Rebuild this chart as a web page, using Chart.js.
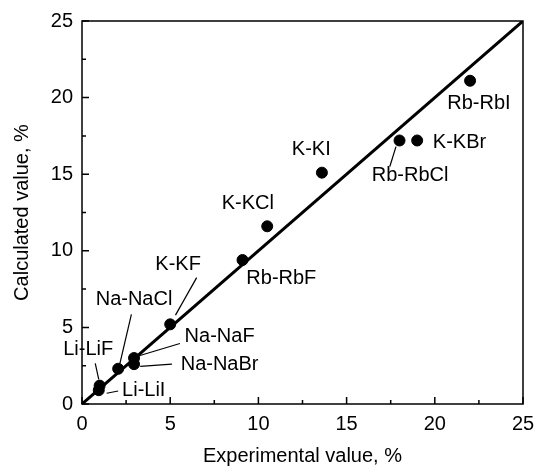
<!DOCTYPE html>
<html>
<head>
<meta charset="utf-8">
<script src="https://cdn.jsdelivr.net/npm/chart.js@4/dist/chart.umd.min.js"></script>
<style>
  html, body { margin: 0; padding: 0; background: #fff; }
  #wrap { width: 544px; height: 472px; position: relative; }
</style>
</head>
<body>
<div id="wrap"><canvas id="grafico"></canvas></div>
<script>
  // dados
  const nomes = ['Li-LiF', 'Li-LiI', 'Na-NaCl', 'Na-NaF', 'Na-NaBr', 'K-KF', 'Rb-RbF', 'K-KCl', 'K-KI', 'Rb-RbCl', 'K-KBr', 'Rb-RbI'];
  const experimental = [1.0, 0.95, 2.05, 2.95, 2.95, 5.0, 9.1, 10.5, 13.6, 18.0, 19.0, 22.0];
  const calculado = [1.2, 0.9, 2.3, 3.0, 2.6, 5.2, 9.4, 11.6, 15.1, 17.2, 17.2, 21.1];
  const linhaX = [0, 25];
  const linhaY = [0, 25];
  const ticksMaiores = [0, 5, 10, 15, 20, 25];

  // posicao dos rotulos (em unidades do grafico) e linhas de chamada
  const rotuloPos = {
    'Li-LiF': [0.35, 3.55], 'Li-LiI': [3.5, 0.9], 'Na-NaCl': [2.95, 6.8],
    'Na-NaF': [7.8, 4.4], 'Na-NaBr': [7.8, 2.6], 'K-KF': [5.45, 9.1],
    'Rb-RbF': [11.3, 8.2], 'K-KCl': [9.4, 13.1], 'K-KI': [13.0, 16.6],
    'Rb-RbCl': [18.6, 14.9], 'K-KBr': [21.4, 17.1], 'Rb-RbI': [22.5, 19.6]
  };
  const chamadas = [
    [0.75, 2.65, 0.95, 1.6], [2.05, 0.85, 1.4, 0.7], [2.8, 5.85, 2.15, 2.65],
    [5.55, 3.95, 3.1, 3.1], [5.1, 2.6, 3.3, 2.45], [6.5, 8.25, 5.3, 5.8],
    [17.8, 16.8, 17.45, 15.5]
  ];

  const fonte = '"Liberation Sans", Arial, sans-serif';

  const extras = {
    id: 'extras',
    afterDraw(chart) {
      const ctx = chart.ctx;
      const sx = chart.scales.x, sy = chart.scales.y;
      const a = chart.chartArea;
      ctx.save();
      ctx.strokeStyle = '#000';
      ctx.fillStyle = '#000';
      // moldura
      ctx.lineWidth = 1.5;
      ctx.strokeRect(a.left, a.top, a.right - a.left, a.bottom - a.top);
      // ticks para dentro
      for (let v = 0; v <= 25; v += 2.5) {
        const len = v % 5 === 0 ? 7 : 4;
        const px = sx.getPixelForValue(v);
        const py = sy.getPixelForValue(v);
        ctx.beginPath();
        ctx.moveTo(px, a.bottom); ctx.lineTo(px, a.bottom - len);
        ctx.moveTo(a.left, py); ctx.lineTo(a.left + len, py);
        ctx.stroke();
      }
      // linhas de chamada
      ctx.lineWidth = 1.2;
      chamadas.forEach(c => {
        ctx.beginPath();
        ctx.moveTo(sx.getPixelForValue(c[0]), sy.getPixelForValue(c[1]));
        ctx.lineTo(sx.getPixelForValue(c[2]), sy.getPixelForValue(c[3]));
        ctx.stroke();
      });
      // rotulos
      ctx.font = '20px ' + fonte;
      ctx.textAlign = 'center';
      ctx.textBaseline = 'middle';
      nomes.forEach(n => {
        const p = rotuloPos[n];
        ctx.fillText(n, sx.getPixelForValue(p[0]), sy.getPixelForValue(p[1]));
      });
      ctx.restore();
    }
  };

  const ctx = document.getElementById('grafico').getContext('2d');
  new Chart(ctx, {
    type: 'scatter',
    data: {
      datasets: [
        {
          type: 'line',
          data: linhaX.map((x, i) => ({ x: x, y: linhaY[i] })),
          borderColor: '#000',
          borderWidth: 3,
          pointRadius: 0
        },
        {
          data: experimental.map((x, i) => ({ x: x, y: calculado[i] })),
          backgroundColor: '#000',
          borderColor: '#000',
          pointRadius: 5.5
        }
      ]
    },
    options: {
      responsive: true,
      maintainAspectRatio: false,
      animation: false,
      layout: { padding: { top: 16, right: 21, left: 0, bottom: 0 } },
      plugins: { legend: { display: false }, tooltip: { enabled: false } },
      scales: {
        x: {
          type: 'linear', min: 0, max: 25,
          afterBuildTicks: s => { s.ticks = ticksMaiores.map(v => ({ value: v })); },
          afterFit: s => { s.height = 68; },
          grid: { display: false, drawTicks: false },
          border: { display: false },
          ticks: { color: '#000', padding: 8, font: { family: fonte, size: 20 } },
          title: { display: true, text: 'Experimental value, %', color: '#000', padding: { top: 6 }, font: { family: fonte, size: 20 } }
        },
        y: {
          type: 'linear', min: 0, max: 25,
          afterBuildTicks: s => { s.ticks = ticksMaiores.map(v => ({ value: v })); },
          afterFit: s => { s.width = 82; },
          grid: { display: false, drawTicks: false },
          border: { display: false },
          ticks: { color: '#000', padding: 9, font: { family: fonte, size: 20 } },
          title: { display: true, text: 'Calculated value, %', color: '#000', padding: { top: 10, bottom: 0 }, font: { family: fonte, size: 20 } }
        }
      }
    },
    plugins: [extras]
  });
</script>
</body>
</html>
